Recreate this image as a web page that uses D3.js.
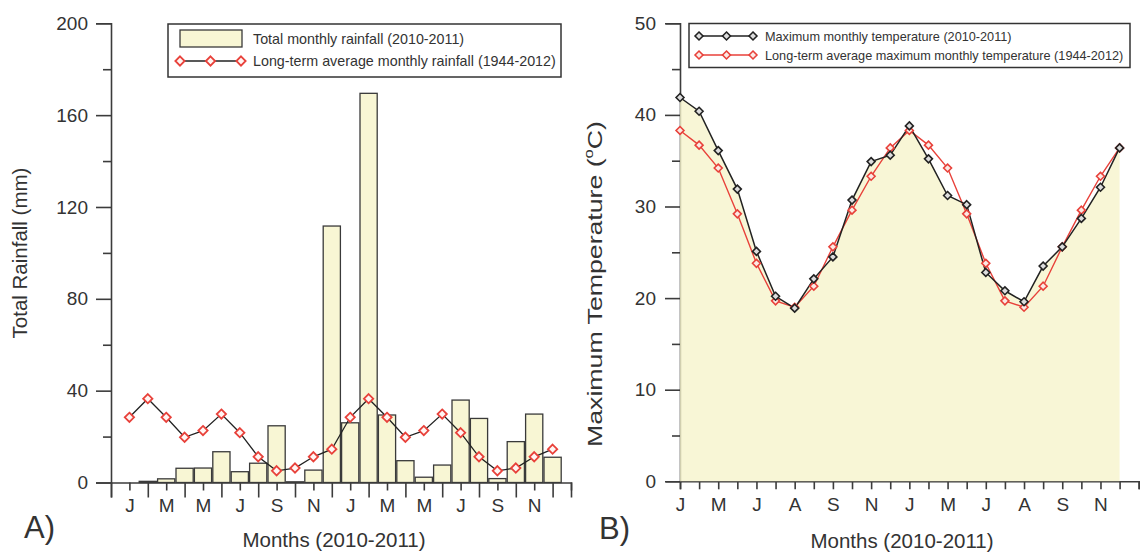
<!DOCTYPE html>
<html>
<head>
<meta charset="utf-8">
<script src="https://cdn.jsdelivr.net/npm/d3@7"></script>
<style>
  html, body { margin: 0; padding: 0; background: #fff; }
  svg { display: block; font-family: "Liberation Sans", Arial, sans-serif; }
</style>
</head>
<body>
<svg id="chart" width="1144" height="554"></svg>
<script>
// ---------------- DATA ----------------
const monthIndex = d3.range(24); // Jan 2010 .. Dec 2011
const rainfallLabels = ["J","M","M","J","S","N","J","M","M","J","S","N"];
const tempLabels     = ["J","M","J","A","S","N","J","M","J","A","S","N"];
const rainTicksY = [0, 40, 80, 120, 160, 200];
const tempTicksY = [0, 10, 20, 30, 40, 50];

// Total monthly rainfall (2010-2011), mm
const rainfallTotal = [0, 0.5, 1.6, 6.2, 6.3, 13.4, 4.7, 8.4, 24.7, 0.3, 5.4, 111.7,
                       26.0, 169.5, 29.4, 9.5, 2.3, 7.6, 35.9, 27.9, 1.7, 17.8, 29.8, 11.0];
// Long-term average monthly rainfall (1944-2012), mm
const rainfallLT = [28.4, 36.5, 28.4, 19.7, 22.6, 29.8, 21.7, 11.2, 5.1, 6.3, 11.2, 14.5,
                    28.4, 36.5, 28.4, 19.7, 22.6, 29.8, 21.7, 11.2, 5.1, 6.3, 11.2, 14.5];
// Maximum monthly temperature (2010-2011), °C
const tempMax = [41.9, 40.4, 36.1, 31.9, 25.1, 20.2, 18.9, 22.1, 24.5, 30.7, 34.9, 35.6,
                 38.8, 35.2, 31.2, 30.2, 22.8, 20.8, 19.6, 23.5, 25.6, 28.7, 32.1, 36.4];
// Long-term average maximum monthly temperature (1944-2012), °C
const tempLT = [38.3, 36.7, 34.2, 29.2, 23.8, 19.7, 19.0, 21.3, 25.6, 29.6, 33.3, 36.4,
                38.3, 36.7, 34.2, 29.2, 23.8, 19.7, 19.0, 21.3, 25.6, 29.6, 33.3, 36.4];

// ---------------- STYLE ----------------
const INK = "#333";
const AXIS = "#3c3c3c";
const CREAM = "#F8F6D4";
const RED = "#E8413A";
const svg = d3.select("#chart");

const diamond = d3.symbol().type(d3.symbolDiamond2);

// ================= PANEL A =================
const xL = d3.scaleLinear().domain([-1, 24]).range([111, 571]);
const yL = d3.scaleLinear().domain([0, 200]).range([482.5, 23.3]);
const gA = svg.append("g");

// bars
const barW = (xL(1) - xL(0)) - 1.2;
gA.selectAll("rect.bar").data(monthIndex).join("rect")
  .attr("class", "bar")
  .attr("x", i => xL(i) - barW / 2)
  .attr("y", i => yL(rainfallTotal[i]))
  .attr("width", barW)
  .attr("height", i => yL(0) - yL(rainfallTotal[i]))
  .attr("fill", CREAM)
  .attr("stroke", "#3a3a3a")
  .attr("stroke-width", 1.3);

// y axis
const yAxisL = d3.axisLeft(yL).tickValues(d3.range(0, 201, 20)).tickSize(15)
  .tickFormat(d => rainTicksY.includes(d) ? d : "").tickPadding(8);
const gyL = gA.append("g").attr("transform", `translate(${xL(-1)},0)`).call(yAxisL);
gyL.selectAll(".tick line").attr("x2", d => rainTicksY.includes(d) ? -15 : -8);

// x axis
const xAxisL = d3.axisBottom(xL).tickValues(d3.range(-1, 25)).tickSize(15)
  .tickFormat(d => (d >= 0 && d % 2 === 0 && d < 24) ? rainfallLabels[d / 2] : "")
  .tickPadding(4);
const gxL = gA.append("g").attr("transform", `translate(0,${yL(0)})`).call(xAxisL);
gxL.selectAll(".tick line").attr("y2", d => (d % 2 === 0) ? 8 : 15);
gxL.selectAll(".tick text").attr("y", 16);

[gyL, gxL].forEach(g => {
  g.select(".domain").attr("stroke", AXIS).attr("stroke-width", 1.6);
  g.selectAll(".tick line").attr("stroke", AXIS).attr("stroke-width", 1.6);
  g.selectAll(".tick text").attr("fill", INK).attr("font-size", 19)
    .attr("font-family", "Liberation Sans, Arial, sans-serif");
});

// long-term line
const lineL = d3.line().x(i => xL(i)).y(i => yL(rainfallLT[i]));
gA.append("path").datum(monthIndex).attr("d", lineL)
  .attr("fill", "none").attr("stroke", "#222").attr("stroke-width", 1.3);
gA.selectAll("path.ltpt").data(monthIndex).join("path")
  .attr("class", "ltpt")
  .attr("transform", i => `translate(${xL(i)},${yL(rainfallLT[i])})`)
  .attr("d", diamond.size(55))
  .attr("fill", "#fff5f3").attr("stroke", RED).attr("stroke-width", 1.8);

// axis titles
gA.append("text").attr("transform", "translate(27,253) rotate(-90)")
  .attr("text-anchor", "middle").attr("fill", INK).attr("font-size", 20.5)
  .text("Total Rainfall (mm)");
gA.append("text").attr("x", 334).attr("y", 547).attr("text-anchor", "middle")
  .attr("fill", INK).attr("font-size", 20.5).text("Months (2010-2011)");
gA.append("text").attr("x", 24).attr("y", 538).attr("fill", INK)
  .attr("font-size", 31).text("A)");

// legend A
const legA = gA.append("g");
legA.append("rect").attr("x", 168).attr("y", 24).attr("width", 393).attr("height", 53)
  .attr("fill", "#fff").attr("stroke", "#333").attr("stroke-width", 1.5);
legA.append("rect").attr("x", 180).attr("y", 30).attr("width", 62).attr("height", 17)
  .attr("fill", CREAM).attr("stroke", "#3a3a3a").attr("stroke-width", 1.3);
legA.append("text").attr("x", 253).attr("y", 44).attr("fill", INK)
  .attr("font-size", 14.3).text("Total monthly rainfall (2010-2011)");
legA.append("line").attr("x1", 180).attr("x2", 241).attr("y1", 61).attr("y2", 61)
  .attr("stroke", "#222").attr("stroke-width", 1.3);
legA.selectAll("path.lg").data([180, 210.5, 241]).join("path")
  .attr("class", "lg").attr("transform", d => `translate(${d},61)`)
  .attr("d", diamond.size(55))
  .attr("fill", "#fff5f3").attr("stroke", RED).attr("stroke-width", 1.8);
legA.append("text").attr("x", 253).attr("y", 66).attr("fill", INK)
  .attr("font-size", 14.3).text("Long-term average monthly rainfall (1944-2012)");

// ================= PANEL B =================
const xR = d3.scaleLinear().domain([0, 24]).range([680, 1138.7]);
const yR = d3.scaleLinear().domain([0, 50]).range([481.3, 23.3]);
const gB = svg.append("g");

// y axis
const yAxisR = d3.axisLeft(yR).tickValues(d3.range(0, 51, 5)).tickSize(14)
  .tickFormat(d => tempTicksY.includes(d) ? d : "").tickPadding(10);
const gyR = gB.append("g").attr("transform", `translate(${xR(0)},0)`).call(yAxisR);
gyR.selectAll(".tick line").attr("x2", d => tempTicksY.includes(d) ? -15 : -8);

// x axis
const xAxisR = d3.axisBottom(xR).tickValues(d3.range(0, 25)).tickSize(8)
  .tickFormat(d => (d % 2 === 0 && d < 24) ? tempLabels[d / 2] : "").tickPadding(4);
const gxR = gB.append("g").attr("transform", `translate(0,${yR(0)})`).call(xAxisR);
gxR.selectAll(".tick text").attr("y", 16);

[gyR, gxR].forEach(g => {
  g.select(".domain").attr("stroke", AXIS).attr("stroke-width", 1.6);
  g.selectAll(".tick line").attr("stroke", AXIS).attr("stroke-width", 1.6);
  g.selectAll(".tick text").attr("fill", INK).attr("font-size", 19)
    .attr("font-family", "Liberation Sans, Arial, sans-serif");
});

// filled area under 2010-2011 max temperature
const areaR = d3.area().x(i => xR(i)).y0(yR(0)).y1(i => yR(tempMax[i]));
gB.append("path").datum(monthIndex).attr("d", areaR)
  .attr("fill", "#F6F4CC").attr("opacity", 0.8);

// lines
const lineMax = d3.line().x(i => xR(i)).y(i => yR(tempMax[i]));
const lineLT = d3.line().x(i => xR(i)).y(i => yR(tempLT[i]));
gB.append("path").datum(monthIndex).attr("d", lineLT)
  .attr("fill", "none").attr("stroke", RED).attr("stroke-width", 1.4);
gB.append("path").datum(monthIndex).attr("d", lineMax)
  .attr("fill", "none").attr("stroke", "#222").attr("stroke-width", 1.5);
gB.selectAll("path.ltT").data(monthIndex).join("path")
  .attr("class", "ltT")
  .attr("transform", i => `translate(${xR(i)},${yR(tempLT[i])})`)
  .attr("d", diamond.size(40))
  .attr("fill", "#fbe9e4").attr("stroke", RED).attr("stroke-width", 1.6);
gB.selectAll("path.mxT").data(monthIndex).join("path")
  .attr("class", "mxT")
  .attr("transform", i => `translate(${xR(i)},${yR(tempMax[i])})`)
  .attr("d", diamond.size(40))
  .attr("fill", "#ddd").attr("stroke", "#222").attr("stroke-width", 1.6);

// axis titles
const yt = gB.append("text").attr("transform", "translate(602,284) rotate(-90)")
  .attr("text-anchor", "middle").attr("fill", INK).attr("font-size", 21)
  .attr("textLength", 326).attr("lengthAdjust", "spacingAndGlyphs");
yt.append("tspan").text("Maximum Temperature (");
yt.append("tspan").attr("font-size", 13).attr("dy", -9).text("o");
yt.append("tspan").attr("dy", 9).text("C)");
gB.append("text").attr("x", 902).attr("y", 548).attr("text-anchor", "middle")
  .attr("fill", INK).attr("font-size", 20.5).text("Months (2010-2011)");
gB.append("text").attr("x", 599).attr("y", 539).attr("fill", INK)
  .attr("font-size", 31).text("B)");

// legend B
const legB = gB.append("g");
legB.append("rect").attr("x", 689).attr("y", 23.5).attr("width", 441).attr("height", 44)
  .attr("fill", "#fff").attr("stroke", "#333").attr("stroke-width", 1.5);
legB.append("line").attr("x1", 699).attr("x2", 753).attr("y1", 36).attr("y2", 36)
  .attr("stroke", "#222").attr("stroke-width", 1.5);
legB.selectAll("path.lb1").data([699, 726.5, 753]).join("path")
  .attr("class", "lb1").attr("transform", d => `translate(${d},36)`)
  .attr("d", diamond.size(40))
  .attr("fill", "#ddd").attr("stroke", "#222").attr("stroke-width", 1.6);
legB.append("text").attr("x", 765).attr("y", 40.5).attr("fill", INK)
  .attr("font-size", 12.7).text("Maximum monthly temperature (2010-2011)");
legB.append("line").attr("x1", 699).attr("x2", 753).attr("y1", 55).attr("y2", 55)
  .attr("stroke", RED).attr("stroke-width", 1.4);
legB.selectAll("path.lb2").data([699, 726.5, 753]).join("path")
  .attr("class", "lb2").attr("transform", d => `translate(${d},55)`)
  .attr("d", diamond.size(40))
  .attr("fill", "#fbe9e4").attr("stroke", RED).attr("stroke-width", 1.6);
legB.append("text").attr("x", 765).attr("y", 59.5).attr("fill", INK)
  .attr("font-size", 12.7).text("Long-term average maximum monthly temperature (1944-2012)");
</script>
</body>
</html>
